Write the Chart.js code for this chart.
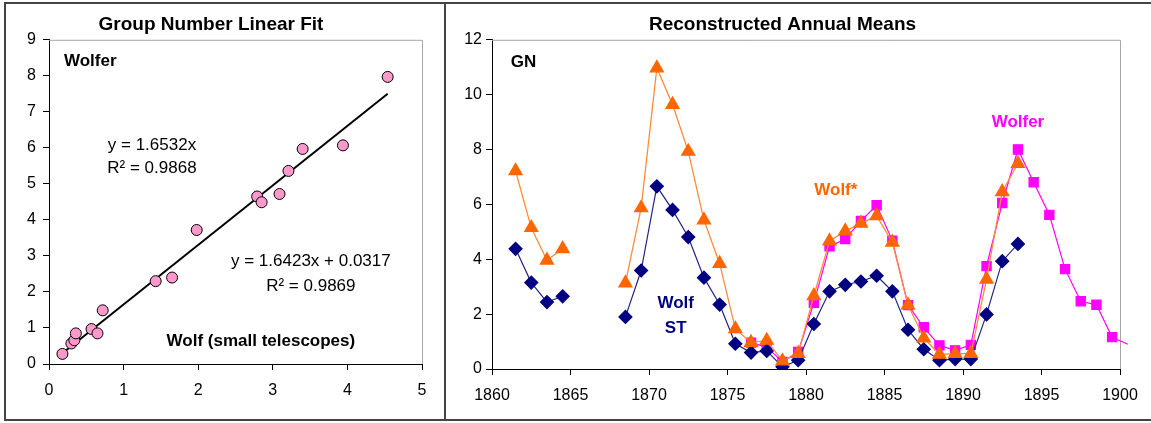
<!DOCTYPE html>
<html>
<head>
<meta charset="utf-8">
<script src="https://cdn.jsdelivr.net/npm/chart.js@4.4.1/dist/chart.umd.min.js"></script>
<style>
  body { margin: 0; background: #fff; width: 1151px; height: 423px; overflow: hidden; position: relative; }
  #left { position: absolute; left: 0; top: 0; }
  #right { position: absolute; left: 445px; top: 0; }
  .rule { position: absolute; background: #444; }
</style>
</head>
<body>
<canvas id="left" width="445" height="423"></canvas>
<canvas id="right" width="706" height="423"></canvas>
<div class="rule" style="left:4px; top:2px; width:1147px; height:2px"></div>
<div class="rule" style="left:4px; top:419px; width:1147px; height:2px"></div>
<div class="rule" style="left:4px; top:2px; width:2px; height:419px"></div>
<div class="rule" style="left:444px; top:2px; width:2px; height:419px"></div>
<script>
// Left panel: Wolf (small telescopes) vs Wolfer group numbers
const wolfSmall = [0.18, 0.30, 0.34, 0.36, 0.57, 0.65, 0.72, 1.43, 1.65, 1.98, 2.79, 2.85, 3.09, 3.21, 3.40, 3.94, 4.54];
const wolferFit = [0.28, 0.57, 0.66, 0.85, 0.97, 0.85, 1.49, 2.30, 2.40, 3.72, 4.65, 4.49, 4.72, 5.36, 5.97, 6.07, 7.97];
// trend line end points as drawn
const fitX = [0.18, 4.54];
const fitY = [0.30, 7.50];

// Right panel: reconstructed annual means
const years = [1861.5, 1862.5, 1863.5, 1864.5, 1865.5, 1866.5, 1867.5, 1868.5, 1869.5, 1870.5,
  1871.5, 1872.5, 1873.5, 1874.5, 1875.5, 1876.5, 1877.5, 1878.5, 1879.5, 1880.5,
  1881.5, 1882.5, 1883.5, 1884.5, 1885.5, 1886.5, 1887.5, 1888.5, 1889.5, 1890.5,
  1891.5, 1892.5, 1893.5, 1894.5, 1895.5, 1896.5, 1897.5, 1898.5, 1899.5, 1900.5];
const wolfST = [4.38, 3.15, 2.44, 2.65, null, null, null, 1.90, 3.59, 6.66,
  5.80, 4.81, 3.33, 2.35, 0.92, 0.60, 0.66, 0.08, 0.32, 1.64,
  2.83, 3.07, 3.19, 3.40, 2.83, 1.43, 0.72, 0.32, 0.36, 0.36,
  1.99, 3.93, 4.56, null, null, null, null, null, null, null];
const wolfStar = [7.22, 5.15, 3.96, 4.38, null, null, null, 3.13, 5.87, 10.97,
  9.64, 7.93, 5.43, 3.84, 1.46, 0.96, 1.04, 0.29, 0.56, 2.67,
  4.66, 5.03, 5.31, 5.58, 4.62, 2.33, 1.13, 0.53, 0.56, 0.56,
  3.27, 6.46, 7.49, null, null, null, null, null, null, null];
const wolfer = [null, null, null, null, null, null, null, null, null, null,
  null, null, null, null, null, 0.96, 0.80, 0.26, 0.62, 2.41,
  4.47, 4.74, 5.40, 5.97, 4.68, 2.33, 1.52, 0.86, 0.68, 0.88,
  3.75, 6.05, 8.00, 6.81, 5.62, 3.64, 2.47, 2.34, 1.16, 0.90];

const FONT = 'Liberation Sans, Arial, sans-serif';
Chart.defaults.font.family = FONT;
Chart.defaults.color = '#000';
Chart.defaults.animation = false;

// gray border on top and right of the plot area, like Excel
const plotBox = {
  id: 'plotBox',
  beforeDatasetsDraw(chart) {
    const { ctx, chartArea: a } = chart;
    ctx.save();
    ctx.strokeStyle = '#a6a6a6';
    ctx.lineWidth = 1;
    ctx.beginPath();
    ctx.moveTo(a.left, a.top + 0.5);
    ctx.lineTo(Math.round(a.right) + 0.5, a.top + 0.5);
    ctx.lineTo(Math.round(a.right) + 0.5, a.bottom);
    ctx.stroke();
    ctx.restore();
  }
};

// text labels placed in data coordinates
const makeNotes = (notes) => ({
  id: 'notes',
  afterDatasetsDraw(chart) {
    const { ctx, scales } = chart;
    ctx.save();
    ctx.textBaseline = 'middle';
    notes.forEach(n => {
      ctx.font = (n.bold ? 'bold ' : '') + '17px ' + FONT;
      ctx.fillStyle = n.color || '#000';
      ctx.textAlign = n.align || 'center';
      ctx.fillText(n.text, scales.x.getPixelForValue(n.x), scales.y.getPixelForValue(n.y));
    });
    ctx.restore();
  }
});

const axisCommon = (min, max, step, tickPad) => ({
  type: 'linear',
  min: min,
  max: max,
  border: { color: '#000', width: 1 },
  grid: { drawOnChartArea: false, color: '#000', tickLength: 6 },
  ticks: {
    stepSize: step,
    padding: tickPad,
    font: { size: 16 },
    color: '#000',
    callback: (v) => String(v)
  }
});

const leftX = axisCommon(0, 5, 1, 11);
leftX.afterFit = (s) => { s.height = 59; };
const leftY = axisCommon(0, 9, 1, 7);
leftY.afterFit = (s) => { s.width = 49; };

new Chart(document.getElementById('left'), {
  type: 'scatter',
  data: {
    datasets: [
      {
        data: wolfSmall.map((x, i) => ({ x: x, y: wolferFit[i] })),
        backgroundColor: '#ff99cc',
        borderColor: '#000',
        borderWidth: 1,
        pointRadius: 5.5
      },
      {
        type: 'line',
        data: fitX.map((x, i) => ({ x: x, y: fitY[i] })),
        borderColor: '#000',
        borderWidth: 2,
        pointRadius: 0,
        showLine: true
      }
    ]
  },
  options: {
    responsive: false,
    layout: { padding: { left: 0, right: 23, top: 0, bottom: 0 } },
    scales: { x: leftX, y: leftY },
    plugins: {
      legend: { display: false },
      tooltip: { enabled: false },
      title: {
        display: true,
        text: 'Group Number Linear Fit',
        font: { size: 19, weight: 'bold' },
        color: '#000',
        padding: { top: 13, bottom: 4 }
      }
    }
  },
  plugins: [plotBox, makeNotes([
    { text: 'Wolfer', x: 0.2, y: 8.4, bold: true, align: 'left' },
    { text: 'y = 1.6532x', x: 1.38, y: 6.07 },
    { text: 'R² = 0.9868', x: 1.38, y: 5.42 },
    { text: 'y = 1.6423x + 0.0317', x: 3.51, y: 2.85 },
    { text: 'R² = 0.9869', x: 3.51, y: 2.17 },
    { text: 'Wolf (small telescopes)', x: 2.84, y: 0.64, bold: true }
  ])]
});

const rightX = axisCommon(1860, 1900, 5, 11);
rightX.afterFit = (s) => { s.height = 54; };
const rightY = axisCommon(0, 12, 2, 4);
rightY.afterFit = (s) => { s.width = 47; };

const series = (vals) => years.map((x, i) => ({ x: x, y: vals[i] }));

new Chart(document.getElementById('right'), {
  type: 'line',
  data: {
    datasets: [
      {
        label: 'Wolf*',
        data: series(wolfStar),
        borderColor: '#ff8c3a',
        borderWidth: 1.3,
        backgroundColor: '#ff6600',
        pointBackgroundColor: '#ff6600',
        pointBorderColor: '#ff6600',
        pointStyle: 'triangle',
        pointRadius: 7.5,
        tension: 0
      },
      {
        label: 'Wolf ST',
        data: series(wolfST),
        borderColor: '#232388',
        borderWidth: 1.2,
        pointBackgroundColor: '#000080',
        pointBorderColor: '#000080',
        pointStyle: 'rectRot',
        pointRadius: 6.5,
        tension: 0
      },
      {
        label: 'Wolfer',
        data: series(wolfer),
        borderColor: '#ff00ff',
        borderWidth: 1.2,
        pointBackgroundColor: '#ff00ff',
        pointBorderColor: '#ff00ff',
        pointStyle: 'rect',
        pointRadius: wolfer.map((v, i) => (i === wolfer.length - 1 ? 0 : 6.5)),
        clip: false,
        tension: 0
      }
    ]
  },
  options: {
    responsive: false,
    spanGaps: false,
    layout: { padding: { left: 0, right: 31, top: 0, bottom: 0 } },
    scales: { x: rightX, y: rightY },
    plugins: {
      legend: { display: false },
      tooltip: { enabled: false },
      title: {
        display: true,
        text: 'Reconstructed Annual Means',
        font: { size: 19, weight: 'bold' },
        color: '#000',
        padding: { top: 13, bottom: 4 }
      }
    }
  },
  plugins: [plotBox, makeNotes([
    { text: 'GN', x: 1861.2, y: 11.19, bold: true, align: 'left' },
    { text: 'Wolf', x: 1871.7, y: 2.38, bold: true, color: '#000080' },
    { text: 'ST', x: 1871.7, y: 1.48, bold: true, color: '#000080' },
    { text: 'Wolf*', x: 1881.9, y: 6.52, bold: true, color: '#ff6600' },
    { text: 'Wolfer', x: 1893.5, y: 8.98, bold: true, color: '#ff00ff' }
  ])]
});
</script>
</body>
</html>
